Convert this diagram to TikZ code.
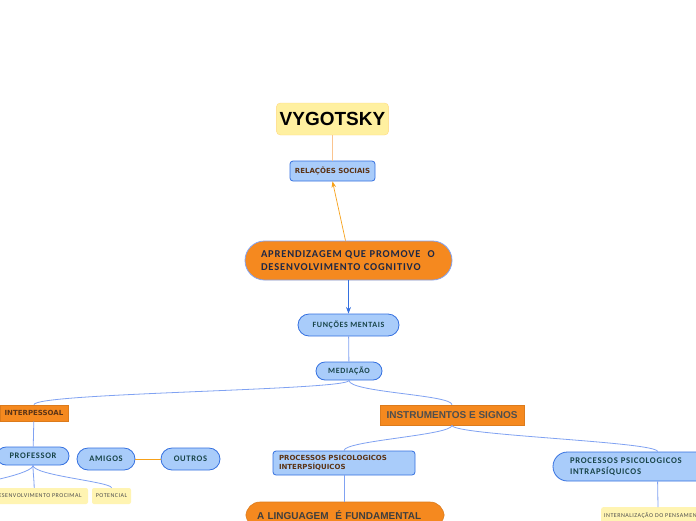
\documentclass[tikz,border=0pt]{standalone}
\usepackage{fontspec}
\setmainfont{Carlito}
\newfontfamily\mmfont[LetterSpace=8]{Carlito}
\newfontfamily\notafont[LetterSpace=8]{Carlito}
\newfontfamily\arialfont{Liberation Sans}
\newfontfamily\verdanafont{DejaVu Sans}
\usetikzlibrary{arrows.meta, calc}
\definecolor{mmorange}{RGB}{245, 137, 31}
\definecolor{mmblue}{RGB}{169, 204, 250}
\definecolor{mmborder}{RGB}{52, 112, 224}
\definecolor{mmline}{RGB}{128, 162, 242}
\definecolor{mmyellow}{RGB}{255, 244, 178}
\definecolor{mmtitle}{RGB}{255, 240, 160}
\definecolor{mmbrown}{RGB}{92, 52, 22}
\definecolor{mmteal}{RGB}{24, 68, 72}
\definecolor{mmnavy}{RGB}{30, 40, 70}
\definecolor{mmgray}{RGB}{78, 78, 78}

\begin{document}
\begin{tikzpicture}[x=1pt, y=-1pt, >=Stealth,
    azul/.style={draw=mmborder, fill=mmblue, line width=0.8pt, inner sep=0pt},
    laranja/.style={draw=mmorange!90!black, fill=mmorange, line width=0.6pt, inner sep=0pt},
    nota/.style={fill=mmyellow, rounded corners=2pt, inner sep=0pt, minimum height=16pt, font=\notafont\fontsize{6}{6.5}\selectfont, text=mmgray},
    ramo/.style={draw=mmline, line width=0.8pt}]

\fill[white] (0,0) rectangle (696,520);
\useasboundingbox (0,0) rectangle (696,520);

% === Titulo ===
\node[fill=mmtitle, draw=mmtitle!80!orange, rounded corners=4pt, minimum width=109pt, minimum height=32pt,
      font=\arialfont\bfseries\fontsize{19}{21}\selectfont] (vygotsky) at (332.5,119) {VYGOTSKY};
\node[azul, rounded corners=3pt, minimum width=85pt, minimum height=20pt,
      font=\verdanafont\bfseries\fontsize{7}{8}\selectfont, text=mmbrown] (relacoes) at (332.5,171) {RELAÇÕES SOCIAIS};

% === Centro ===
\node[fill=mmorange, draw=mmline, line width=0.8pt, rounded corners=19.5pt, minimum width=207pt, minimum height=39pt,
      text width=175pt, align=left, inner sep=0pt, text=mmnavy,
      font=\mmfont\bfseries\fontsize{10.5}{12.5}\selectfont] (aprend) at (348.5,260.5)
      {APRENDIZAGEM QUE PROMOVE \ O\\DESENVOLVIMENTO COGNITIVO};
\node[azul, rounded corners=11pt, minimum width=101pt, minimum height=22pt,
      font=\mmfont\bfseries\fontsize{8}{9}\selectfont, text=mmteal] (funcoes) at (348.5,325) {FUNÇÕES MENTAIS};
\node[azul, rounded corners=9pt, minimum width=66pt, minimum height=18pt,
      font=\mmfont\bfseries\fontsize{8}{9}\selectfont, text=mmteal] (mediacao) at (349,371) {MEDIAÇÃO};

\draw[mmorange!50, line width=0.8pt] (vygotsky) -- (relacoes);
\draw[->, mmorange!80!yellow, line width=0.7pt] ($(aprend.north)+(-3,0)$) -- (relacoes.south);
\draw[->, mmborder, line width=0.8pt] (aprend.south) -- (funcoes.north);
\draw[ramo] (funcoes) -- (mediacao);

% === Ramo interpessoal ===
\node[laranja, minimum width=68pt, minimum height=16pt,
      font=\verdanafont\bfseries\fontsize{7}{8}\selectfont, text=mmbrown] (interpessoal) at (34,413) {INTERPESSOAL};
\node[azul, rounded corners=9pt, minimum width=72pt, minimum height=18pt,
      font=\mmfont\bfseries\fontsize{8.5}{9}\selectfont, text=mmteal] (professor) at (33,456) {PROFESSOR};
\node[azul, rounded corners=11pt, minimum width=58pt, minimum height=22pt,
      font=\mmfont\bfseries\fontsize{8.5}{9}\selectfont, text=mmteal] (amigos) at (106,459) {AMIGOS};
\node[azul, rounded corners=11pt, minimum width=59pt, minimum height=22pt,
      font=\mmfont\bfseries\fontsize{8.5}{9}\selectfont, text=mmteal] (outros) at (190.5,459) {OUTROS};
\node[nota, minimum width=100pt] (desenv) at (38,496) {DESENVOLVIMENTO PROCIMAL};
\node[nota, minimum width=39pt] (potencial) at (111.5,496) {POTENCIAL};
\coordinate (fora) at (-40,486);

\draw[ramo] (mediacao.south) .. controls +(0,10) and +(0,-12) .. (interpessoal.north);
\draw[ramo] (interpessoal) -- (professor);
\draw[mmorange!80!yellow, line width=0.8pt] (amigos) -- (outros);
\draw[ramo] (professor.south) .. controls +(0,8) and +(20,-2) .. (fora);
\draw[ramo] (professor.south) .. controls +(0,8) and +(0,-8) .. (desenv.115);
\draw[ramo] (professor.south) .. controls +(0,10) and +(0,-6) .. (potencial.north);

% === Ramo instrumentos ===
\node[laranja, minimum width=144pt, minimum height=20pt,
      font=\arialfont\bfseries\fontsize{10}{11}\selectfont, text=mmgray] (instrumentos) at (452,415) {INSTRUMENTOS E SIGNOS};
\node[azul, rounded corners=3pt, minimum width=142pt, minimum height=24pt, text width=130pt, align=left,
      font=\verdanafont\bfseries\fontsize{7}{9.3}\selectfont, text=mmbrown] (procinter) at (344,463)
      {PROCESSOS PSICOLOGICOS\\INTERPSÍQUICOS};
\node[laranja, rounded corners=14pt, minimum width=198pt, minimum height=26pt, text width=176pt, align=left,
      font=\arialfont\bfseries\fontsize{10}{11}\selectfont, text=mmgray!80!black] (linguagem) at (345,515) {A LINGUAGEM \ É FUNDAMENTAL};
\node[azul, rounded corners=14.5pt, minimum width=174pt, minimum height=29pt, text width=140pt, align=left,
      font=\mmfont\bfseries\fontsize{8.7}{10.5}\selectfont, text=mmteal] (procintra) at (640,466.5)
      {PROCESSOS PSICOLOGICOS\\INTRAPSÍQUICOS};
\node[nota, anchor=north west, minimum width=120pt, text width=114pt, align=left] (internaliza) at (601,507)
      {INTERNALIZAÇÃO DO PENSAMENTO};

\draw[ramo] (mediacao.south) .. controls +(0,12) and +(0,-10) .. (instrumentos.north);
\draw[ramo] (instrumentos.south) .. controls +(0,10) and +(0,-10) .. (procinter.north);
\draw[ramo] (instrumentos.south) .. controls +(0,10) and +(0,-10) .. ($(procintra.north west)+(105,0)$);
\draw[ramo] (procinter) -- (procinter |- linguagem.north);
\draw[ramo] ($(procintra.south west)+(105,0)$) -- ($(internaliza.north west)+(57,0)$);

\end{tikzpicture}
\end{document}
